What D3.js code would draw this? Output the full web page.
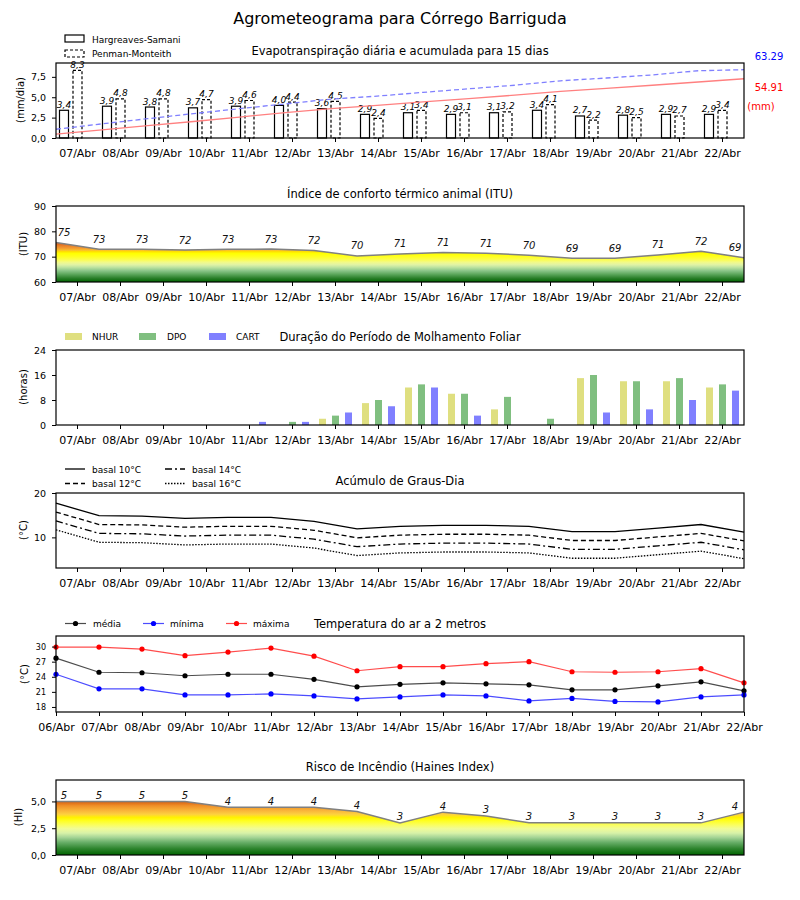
<!DOCTYPE html>
<html><head><meta charset="utf-8">
<script src="https://cdn.jsdelivr.net/npm/d3@7"></script>
<style>body{margin:0;background:#fff} text{font-family:"DejaVu Sans",sans-serif}</style>
</head><body><svg id="c" width="800" height="900"></svg>
<script>
// ---------- data ----------
const dias = ['07/Abr','08/Abr','09/Abr','10/Abr','11/Abr','12/Abr','13/Abr','14/Abr','15/Abr','16/Abr','17/Abr','18/Abr','19/Abr','20/Abr','21/Abr','22/Abr'];
const diasT = ['06/Abr','07/Abr','08/Abr','09/Abr','10/Abr','11/Abr','12/Abr','13/Abr','14/Abr','15/Abr','16/Abr','17/Abr','18/Abr','19/Abr','20/Abr','21/Abr','22/Abr'];

const etoHS = [3.4,3.9,3.8,3.7,3.9,4.0,3.6,2.9,3.1,2.9,3.1,3.4,2.7,2.8,2.9,2.9];
const etoPM = [8.3,4.8,4.8,4.7,4.6,4.4,4.5,2.4,3.4,3.1,3.2,4.1,2.2,2.5,2.7,3.4];
const acumHS = [3.6,7.6,11.5,15.3,19.4,23.5,27.2,30.3,33.5,36.5,39.7,43.2,46.0,48.9,51.9,54.91];
const acumPM = [8.1,13.1,17.9,22.6,27.2,31.6,36.1,38.8,42.3,45.6,48.9,53.0,55.6,58.4,62.3,63.29];
const totHS = '54.91', totPM = '63.29';

const ituLinha = [75.6,72.9,72.9,72.6,72.9,73.0,72.4,70.3,71.1,71.6,71.3,70.6,69.4,69.4,70.7,72.1,69.6];
const ituRot = [75,73,73,72,73,73,72,70,71,71,71,70,69,69,71,72,69];

const nhur = [0,0,0,0,0,0,2,7,12,10,5,0,15,14,14,12];
const dpo  = [0,0,0,0,0,1,3,8,13,10,9,2,16,14,15,13];
const cart = [0,0,0,0,1,1,4,6,12,3,0,0,4,5,8,11];

const gd10 = [17.7,14.9,14.8,14.3,14.5,14.5,13.6,11.9,12.5,12.7,12.7,12.5,11.3,11.3,12.1,12.9,11.2];
const gd12 = [15.7,12.9,12.8,12.3,12.5,12.5,11.6,9.9,10.5,10.7,10.7,10.5,9.3,9.3,10.1,10.9,9.2];
const gd14 = [13.7,10.9,10.8,10.3,10.5,10.5,9.6,7.9,8.5,8.7,8.7,8.5,7.3,7.3,8.1,8.9,7.2];
const gd16 = [11.7,8.9,8.8,8.3,8.5,8.5,7.6,5.9,6.5,6.7,6.7,6.5,5.3,5.3,6.1,6.9,5.2];

const tMax = [29.9,29.9,29.5,28.2,28.9,29.7,28.1,25.2,26.0,26.0,26.6,27.0,25.0,24.9,25.0,25.6,22.8];
const tMed = [27.7,24.9,24.8,24.2,24.5,24.5,23.5,22.0,22.5,22.8,22.6,22.4,21.4,21.4,22.2,23.0,21.2];
const tMin = [24.5,21.6,21.6,20.4,20.4,20.6,20.2,19.6,20.0,20.4,20.2,19.2,19.7,19.1,19.0,20.0,20.4];

const hainesLinha = [5,5,5,5,4.45,4.45,4.45,4.05,3.0,4.0,3.65,3.0,3.0,3.0,3.0,3.0,4.0];
const hainesRot = [5,5,5,5,4,4,4,4,3,4,3,3,3,3,3,3,4];

// ---------- helpers ----------
const svg = d3.select('#c');
const L = 56, R = 744;
const xB = d3.scaleBand().domain(dias).range([L, R]);
const xP = d3.scalePoint().domain(diasT).range([L, R]);
const xC = d3.scalePoint().domain(dias).range([L, R]);
const vf = v => v.toFixed(1).replace('.', ',');

function frame(top, bot) {
  svg.append('rect').attr('x', L).attr('y', top).attr('width', R - L).attr('height', bot - top)
    .attr('fill', 'none').attr('stroke', '#000').attr('stroke-width', 1.2);
}
function xAxis(scale, y) {
  const g = svg.append('g').attr('transform', `translate(0,${y})`)
    .call(d3.axisBottom(scale).tickSize(4).tickPadding(7).tickSizeOuter(0));
  g.select('.domain').remove();
  g.selectAll('line').attr('stroke', '#000');
  g.selectAll('text').attr('font-size', 11).attr('font-family', 'DejaVu Sans').attr('fill', '#000');
}
function yAxis(scale, ticks, fmt, fs) {
  const g = svg.append('g').attr('transform', `translate(${L},0)`)
    .call(d3.axisLeft(scale).tickValues(ticks).tickFormat(fmt).tickSize(4).tickPadding(6));
  g.select('.domain').remove();
  g.selectAll('line').attr('stroke', '#000');
  g.selectAll('text').attr('font-size', fs).attr('font-family', 'DejaVu Sans').attr('fill', '#000');
}
function title(t, y) {
  svg.append('text').attr('x', 400).attr('y', y).attr('text-anchor', 'middle')
    .attr('font-size', 11.5).attr('fill', '#000').text(t);
}
function ylabel(t, x, y) {
  svg.append('text').attr('transform', `translate(${x},${y}) rotate(-90)`).attr('text-anchor', 'middle')
    .attr('dy', '0.35em').attr('font-size', 10).attr('fill', '#000').text(t);
}
function gradient(id, scale, stops) {
  const defs = svg.select('defs').empty() ? svg.append('defs') : svg.select('defs');
  const lg = defs.append('linearGradient').attr('id', id).attr('gradientUnits', 'userSpaceOnUse')
    .attr('x1', 0).attr('x2', 0).attr('y1', scale(stops[0][0])).attr('y2', scale(stops[stops.length - 1][0]));
  const a = stops[0][0], b = stops[stops.length - 1][0];
  stops.forEach(s => lg.append('stop').attr('offset', (s[0] - a) / (b - a)).attr('stop-color', s[1]));
}

svg.append('text').attr('x', 400).attr('y', 24).attr('text-anchor', 'middle').attr('font-size', 16)
  .attr('fill', '#000').text('Agrometeograma para Córrego Barriguda');

// ---------- panel 1: ETo ----------
{
  const top = 63, bot = 138;
  const y = d3.scaleLinear().domain([0, 9.2]).range([bot, top]);
  const y2 = d3.scaleLinear().domain([0, 69.5]).range([bot, top]);
  const off = d3.scalePoint().domain(['HS', 'PM']).range([-13.5, 0]);
  const bw = 9;
  const cx = (d, k) => xB(d) + xB.bandwidth() / 2 + off(k);
  const series = [['HS', etoHS, null], ['PM', etoPM, '3,2']];
  series.forEach(([k, vals, dash]) => {
    svg.append('g').selectAll('rect').data(dias).join('rect')
      .attr('x', (d) => cx(d, k) - bw / 2).attr('width', bw)
      .attr('y', (d, i) => y(vals[i])).attr('height', (d, i) => bot - y(vals[i]))
      .attr('fill', '#fff').attr('stroke', '#000').attr('stroke-width', 1.2)
      .attr('stroke-dasharray', dash);
    svg.append('g').selectAll('text').data(dias).join('text')
      .attr('x', d => cx(d, k)).attr('y', (d, i) => y(vals[i]) - 2.5).attr('text-anchor', 'middle')
      .attr('font-size', 9).attr('font-style', 'italic').attr('fill', '#000')
      .text((d, i) => vf(vals[i]));
  });
  svg.append('path').datum(acumHS).attr('fill', 'none').attr('stroke', '#ff8080').attr('stroke-width', 1.3)
    .attr('d', d3.line().x((d, i) => xC(dias[i])).y(d => y2(d)));
  svg.append('path').datum(acumPM).attr('fill', 'none').attr('stroke', '#8080ff').attr('stroke-width', 1.3)
    .attr('stroke-dasharray', '5,3')
    .attr('d', d3.line().x((d, i) => xC(dias[i])).y(d => y2(d)));
  frame(top, bot);
  xAxis(xB, bot);
  yAxis(y, [0, 2.5, 5, 7.5], vf, 9.5);
  ylabel('(mm/dia)', 20, 100);
  title('Evapotranspiração diária e acumulada para 15 dias', 55);
  svg.append('text').attr('x', 769).attr('y', 59.5).attr('text-anchor', 'middle').attr('font-size', 10).attr('fill', '#0000ff').text(totPM);
  svg.append('text').attr('x', 769).attr('y', 90.5).attr('text-anchor', 'middle').attr('font-size', 10).attr('fill', '#ff0000').text(totHS);
  svg.append('text').attr('x', 761).attr('y', 109.5).attr('text-anchor', 'middle').attr('font-size', 10).attr('fill', '#ff0000').text('(mm)');
  // legend
  const lg = svg.append('g');
  lg.append('rect').attr('x', 65).attr('y', 35).attr('width', 19).attr('height', 7).attr('fill', '#fff').attr('stroke', '#000').attr('stroke-width', 1.2);
  lg.append('rect').attr('x', 65).attr('y', 50).attr('width', 19).attr('height', 7).attr('fill', '#fff').attr('stroke', '#000').attr('stroke-width', 1.2).attr('stroke-dasharray', '3,2');
  lg.append('text').attr('x', 92).attr('y', 42.5).attr('font-size', 9).attr('fill', '#000').text('Hargreaves-Samani');
  lg.append('text').attr('x', 92).attr('y', 57).attr('font-size', 9).attr('fill', '#000').text('Penman-Monteith');
}

// ---------- panel 2: ITU ----------
{
  const top = 206, bot = 282;
  const y = d3.scaleLinear().domain([60, 90]).range([bot, top]);
  gradient('gItu', y, [[60, '#006400'], [61.5, '#2a7f2a'], [63, '#5aa55a'], [64.5, '#8cc68a'], [65.8, '#bde3a0'],
    [66.8, '#e0f3a6'], [67.8, '#f2fa88'], [68.8, '#fbfd50'], [70, '#ffff20'], [71.3, '#ffff00'], [72, '#ffe000'],
    [72.5, '#fbc02a'], [73.2, '#f5a030'], [74.3, '#e8802a'], [75.3, '#d8601a'], [77, '#c84010']]);
  svg.append('path').datum(ituLinha).attr('fill', 'url(#gItu)')
    .attr('d', d3.area().x((d, i) => xP(diasT[i])).y0(bot).y1(d => y(d)));
  svg.append('path').datum(ituLinha).attr('fill', 'none').attr('stroke', '#808080').attr('stroke-width', 1.5)
    .attr('d', d3.line().x((d, i) => xP(diasT[i])).y(d => y(d)));
  svg.append('g').selectAll('text').data(ituRot).join('text')
    .attr('x', (d, i) => xP(diasT[i]) + (i === 0 ? 8 : i === ituRot.length - 1 ? -9 : 0))
    .attr('y', (d, i) => y(ituLinha[i]) - 6.5).attr('text-anchor', 'middle')
    .attr('font-size', 10).attr('font-style', 'italic').attr('fill', '#111').text(d => d);
  frame(top, bot);
  xAxis(xB, bot);
  yAxis(y, [60, 70, 80, 90], d => d, 9.5);
  ylabel('(ITU)', 23, 244);
  title('Índice de conforto térmico animal (ITU)', 198);
}

// ---------- panel 3: molhamento ----------
{
  const top = 350, bot = 425;
  const y = d3.scaleLinear().domain([0, 24]).range([bot, top]);
  const keys = ['NHUR', 'DPO', 'CART'];
  const cols = { NHUR: '#dfdf80', DPO: '#80bf80', CART: '#8080ff' };
  const vals = { NHUR: nhur, DPO: dpo, CART: cart };
  const off = d3.scalePoint().domain(keys).range([-13, 13]);
  const bw = 7;
  keys.forEach(k => {
    svg.append('g').selectAll('rect').data(dias).join('rect')
      .attr('x', d => xB(d) + xB.bandwidth() / 2 + off(k) - bw / 2).attr('width', bw)
      .attr('y', (d, i) => y(vals[k][i])).attr('height', (d, i) => bot - y(vals[k][i]))
      .attr('fill', cols[k]);
  });
  frame(top, bot);
  xAxis(xB, bot);
  yAxis(y, [0, 8, 16, 24], d => d, 9.5);
  ylabel('(horas)', 23, 387);
  title('Duração do Período de Molhamento Foliar', 341);
  const lx = [65, 139, 209], tx = [92, 167, 236];
  keys.forEach((k, i) => {
    svg.append('rect').attr('x', lx[i]).attr('y', 333).attr('width', 17).attr('height', 7).attr('fill', cols[k]);
    svg.append('text').attr('x', tx[i]).attr('y', 340).attr('font-size', 9).attr('fill', '#000').text(k);
  });
}

// ---------- panel 4: graus-dia ----------
{
  const top = 493, bot = 568;
  const y = d3.scaleLinear().domain([3.1, 20]).range([bot, top]);
  const ser = [['basal 10°C', gd10, null], ['basal 12°C', gd12, '5,3'], ['basal 14°C', gd14, '7,3,2,3'], ['basal 16°C', gd16, '1.5,1.5']];
  ser.forEach(([n, v, dash]) => {
    svg.append('path').datum(v).attr('fill', 'none').attr('stroke', '#000').attr('stroke-width', 1.3)
      .attr('stroke-dasharray', dash)
      .attr('d', d3.line().x((d, i) => xP(diasT[i])).y(d => y(d)));
  });
  frame(top, bot);
  xAxis(xB, bot);
  yAxis(y, [10, 20], d => d, 9.5);
  ylabel('(°C)', 23, 530);
  title('Acúmulo de Graus-Dia', 485);
  const pos = [[65, 469], [65, 483.5], [165, 469], [165, 483.5]];
  ser.forEach(([n, v, dash], i) => {
    const [px, py] = pos[i];
    svg.append('line').attr('x1', px).attr('x2', px + 20).attr('y1', py).attr('y2', py)
      .attr('stroke', '#000').attr('stroke-width', 1.3).attr('stroke-dasharray', dash);
    svg.append('text').attr('x', px + 27).attr('y', py + 3.5).attr('font-size', 9).attr('fill', '#000').text(n);
  });
}

// ---------- panel 5: temperatura ----------
{
  const top = 636, bot = 712;
  const y = d3.scaleLinear().domain([17, 32.1]).range([bot, top]);
  const ser = [['média', tMed, '#000000'], ['mínima', tMin, '#0000ff'], ['máxima', tMax, '#ff0000']];
  ser.forEach(([n, v, c]) => {
    svg.append('path').datum(v).attr('fill', 'none').attr('stroke', c).attr('stroke-opacity', 0.7).attr('stroke-width', 1.2)
      .attr('d', d3.line().x((d, i) => xP(diasT[i])).y(d => y(d)));
    svg.append('g').selectAll('circle').data(v).join('circle')
      .attr('cx', (d, i) => xP(diasT[i])).attr('cy', d => y(d)).attr('r', 2.6).attr('fill', c);
  });
  frame(top, bot);
  xAxis(xP, bot);
  yAxis(y, [18, 21, 24, 27, 30], d => d, 8);
  ylabel('(°C)', 24, 674);
  title('Temperatura do ar a 2 metros', 628);
  const lx = [65, 143, 226], tx = [93, 170, 253];
  ser.forEach(([n, v, c], i) => {
    svg.append('line').attr('x1', lx[i]).attr('x2', lx[i] + 21).attr('y1', 623.5).attr('y2', 623.5)
      .attr('stroke', c).attr('stroke-opacity', 0.7).attr('stroke-width', 1.2);
    svg.append('circle').attr('cx', lx[i] + 10.5).attr('cy', 623.5).attr('r', 2.6).attr('fill', c);
    svg.append('text').attr('x', tx[i]).attr('y', 627).attr('font-size', 9).attr('fill', '#000').text(n);
  });
}

// ---------- panel 6: Haines ----------
{
  const top = 780, bot = 855;
  const y = d3.scaleLinear().domain([0, 7]).range([bot, top]);
  gradient('gHai', y, [[0, '#006400'], [0.6, '#2e852e'], [1.2, '#6ab06a'], [1.65, '#a6d596'], [2.05, '#d8f2a8'],
    [2.45, '#f0fb98'], [2.8, '#fafe60'], [3.2, '#ffff20'], [3.5, '#fff200'], [3.8, '#fdd040'], [4.2, '#f8b038'],
    [4.6, '#ef8f28'], [5.0, '#d86010'], [5.5, '#c84010']]);
  svg.append('path').datum(hainesLinha).attr('fill', 'url(#gHai)')
    .attr('d', d3.area().x((d, i) => xP(diasT[i])).y0(bot).y1(d => y(d)));
  svg.append('path').datum(hainesLinha).attr('fill', 'none').attr('stroke', '#808080').attr('stroke-width', 1.5)
    .attr('d', d3.line().x((d, i) => xP(diasT[i])).y(d => y(d)));
  svg.append('g').selectAll('text').data(hainesRot).join('text')
    .attr('x', (d, i) => xP(diasT[i]) + (i === 0 ? 8 : i === hainesRot.length - 1 ? -9 : 0))
    .attr('y', (d, i) => y(hainesLinha[i]) - 2.5).attr('text-anchor', 'middle')
    .attr('font-size', 10).attr('font-style', 'italic').attr('fill', '#111').text(d => d);
  frame(top, bot);
  xAxis(xB, bot);
  yAxis(y, [0, 2.5, 5], vf, 9.5);
  ylabel('(HI)', 18, 817);
  title('Risco de Incêndio (Haines Index)', 771);
}
</script></body></html>
